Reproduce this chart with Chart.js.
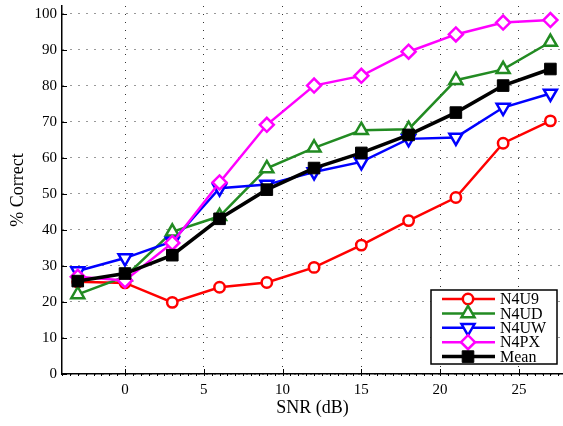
<!DOCTYPE html>
<html>
  <head>
    <title>SNR vs % Correct</title>
    <script src="https://cdn.jsdelivr.net/npm/chart.js"></script>
    <style>
      body {
        margin: 0;
        padding: 0;
        background: #ffffff;
      }
      #wrap {
        width: 563px;
        height: 426px;
      }
    </style>
  </head>
  <body>
    <div id="wrap"><canvas id="myChart"></canvas></div>
    <script>
      // SNR levels (dB)
      const snr = [-3, 0, 3, 6, 9, 12, 15, 18, 21, 24, 27];
      const xTicks = [0, 5, 10, 15, 20, 25];
      const yTicks = [0, 10, 20, 30, 40, 50, 60, 70, 80, 90, 100];

      // % correct per listener
      const n4u9 = [25.6, 25.3, 19.9, 24.1, 25.4, 29.6, 35.8, 42.6, 49.0, 64.1, 70.3];
      const n4ud = [22.1, 27.0, 39.5, 43.8, 57.1, 62.8, 67.7, 68.0, 81.6, 84.6, 92.2];
      const n4uw = [28.6, 32.2, 36.8, 51.6, 52.6, 56.1, 58.9, 65.3, 65.7, 74.0, 77.9];
      const n4px = [27.0, 26.0, 36.4, 53.2, 69.2, 80.1, 82.8, 89.5, 94.3, 97.6, 98.3];
      const mean = [25.8, 27.9, 33.0, 43.1, 51.2, 57.2, 61.4, 66.4, 72.6, 80.1, 84.7];

      const FONT = "'Liberation Serif', 'DejaVu Serif', serif";
      const GREEN = "#228b22";

      function series(label, values, color, style, opts) {
        return Object.assign(
          {
            label: label,
            data: snr.map((x, i) => ({ x: x, y: values[i] })),
            borderColor: color,
            backgroundColor: "#ffffff",
            pointBorderColor: color,
            pointBackgroundColor: "#ffffff",
            borderWidth: 2.5,
            pointBorderWidth: 2.5,
            pointStyle: style,
            pointRadius: 5.2,
            tension: 0,
            clip: false,
          },
          opts || {}
        );
      }

      const datasets = [
        series("N4U9", n4u9, "#ff0000", "circle", { order: 5 }),
        series("N4UD", n4ud, GREEN, "triangle", { order: 4, pointRadius: 7.5 }),
        series("N4UW", n4uw, "#0000ff", "triangle", {
          order: 3,
          pointRadius: 7.5,
          pointRotation: 180,
        }),
        series("N4PX", n4px, "#ff00ff", "rectRot", { order: 2, pointRadius: 7 }),
        series("Mean", mean, "#000000", "rect", {
          order: 1,
          borderWidth: 3.5,
          pointBackgroundColor: "#000000",
          pointBorderWidth: 1,
          pointRadius: 8.2,
        }),
      ];

      // inward major ticks + small minor ticks like the matlab axes
      const axisTicks = {
        id: "axisTicks",
        afterDraw(chart) {
          const { ctx, chartArea: a, scales } = chart;
          ctx.save();
          ctx.strokeStyle = "#000";
          ctx.lineWidth = 1;
          ctx.beginPath();
          xTicks.forEach((v) => {
            const px = Math.round(scales.x.getPixelForValue(v)) + 0.5;
            ctx.moveTo(px, a.bottom);
            ctx.lineTo(px, a.bottom - 5);
          });
          for (let v = -4; v <= 28; v += 0.5) {
            const px = Math.round(scales.x.getPixelForValue(v)) + 0.5;
            if (px > a.right) break;
            ctx.moveTo(px, a.bottom);
            ctx.lineTo(px, a.bottom + 2);
          }
          yTicks.forEach((v) => {
            const py = Math.round(scales.y.getPixelForValue(v)) + 0.5;
            ctx.moveTo(a.left, py);
            ctx.lineTo(a.left + 5, py);
          });
          ctx.stroke();
          ctx.restore();
        },
      };

      // matlab style legend box, line with marker in the middle
      const boxLegend = {
        id: "boxLegend",
        afterDraw(chart) {
          const ctx = chart.ctx;
          const bx = 431, by = 290, bw = 126, bh = 74;
          ctx.save();
          ctx.fillStyle = "#ffffff";
          ctx.fillRect(bx, by, bw, bh);
          ctx.strokeStyle = "#000";
          ctx.lineWidth = 1.5;
          ctx.strokeRect(bx, by, bw, bh);
          ctx.font = "16px " + FONT;
          ctx.textBaseline = "middle";
          chart.data.datasets.forEach((ds, i) => {
            const y = by + 9 + i * 14.4;
            ctx.strokeStyle = ds.borderColor;
            ctx.lineWidth = ds.borderWidth;
            ctx.beginPath();
            ctx.moveTo(442, y);
            ctx.lineTo(495, y);
            ctx.stroke();
            ctx.fillStyle = ds.pointBackgroundColor;
            ctx.strokeStyle = ds.pointBorderColor;
            ctx.lineWidth = ds.pointBorderWidth;
            Chart.helpers.drawPoint(ctx, {
              pointStyle: ds.pointStyle,
              radius: ds.pointRadius,
              rotation: ds.pointRotation || 0,
              borderWidth: ds.pointBorderWidth,
            }, 468, y);
            ctx.fillStyle = "#000";
            ctx.fillText(ds.label, 500, y + 1);
          });
          ctx.restore();
        },
      };

      function noPad(s) {
        s.paddingTop = 0;
        s.paddingBottom = 0;
        s.paddingLeft = 0;
        s.paddingRight = 0;
      }

      new Chart(document.getElementById("myChart"), {
        type: "line",
        data: { datasets: datasets },
        plugins: [axisTicks, boxLegend],
        options: {
          responsive: true,
          maintainAspectRatio: false,
          animation: false,
          layout: {
            autoPadding: false,
            padding: { top: 6, right: 0, left: 0, bottom: 0 },
          },
          plugins: {
            legend: { display: false },
            tooltip: { enabled: false },
          },
          scales: {
            x: {
              type: "linear",
              min: -4,
              max: 27.8,
              afterBuildTicks: (s) => {
                s.ticks = xTicks.map((v) => ({ value: v }));
              },
              afterFit: (s) => {
                s.height = 52;
                noPad(s);
              },
              grid: {
                color: "#333",
                lineWidth: 1,
                drawTicks: false,
              },
              border: { color: "#000", width: 1.5, dash: [1, 7] },
              ticks: {
                color: "#000",
                padding: 7,
                font: { family: FONT, size: 15 },
              },
              title: {
                display: true,
                text: "SNR (dB)",
                color: "#000",
                padding: { top: 0, bottom: 7 },
                font: { family: FONT, size: 18 },
              },
            },
            y: {
              min: 0,
              max: 102.2,
              afterBuildTicks: (s) => {
                s.ticks = yTicks.map((v) => ({ value: v }));
              },
              afterFit: (s) => {
                s.width = 62;
                noPad(s);
              },
              grid: {
                color: "#333",
                lineWidth: 1,
                drawTicks: false,
              },
              border: { color: "#000", width: 1.5, dash: [1, 7] },
              ticks: {
                color: "#000",
                padding: 5,
                font: { family: FONT, size: 15 },
              },
              title: {
                display: true,
                text: "% Correct",
                color: "#000",
                padding: { top: 7, bottom: 0 },
                font: { family: FONT, size: 18 },
              },
            },
          },
        },
      });
    </script>
  </body>
</html>
